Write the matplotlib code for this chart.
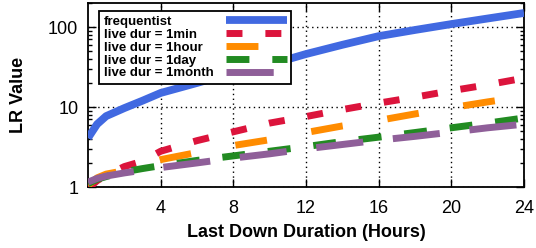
import matplotlib
matplotlib.use("Agg")
import matplotlib.pyplot as plt
from matplotlib.ticker import LogLocator, NullFormatter, FixedLocator

plt.rcParams['font.family'] = ['Liberation Sans', 'DejaVu Sans']

hours = [0, 0.5, 1, 2, 3, 4, 6, 8, 10, 12, 14, 16, 18, 20, 22, 24]
frequentist = [4.1, 6.1, 7.7, 9.7, 12, 15, 20, 27, 34, 46, 60, 77, 92, 109, 128, 150]
live_1min = [0.95, 1.2, 1.4, 1.8, 2.1, 2.8, 3.8, 4.9, 6.3, 7.6, 9.3, 11.2, 13.3, 16, 19, 23]
live_1hour = [1.05, 1.3, 1.45, 1.6, 1.9, 2.2, 2.7, 3.3, 3.9, 4.8, 5.8, 6.8, 8.2, 9.8, 11.6, 13.5]
live_1day = [1.1, 1.25, 1.35, 1.55, 1.7, 1.85, 2.15, 2.45, 2.8, 3.2, 3.7, 4.2, 4.8, 5.5, 6.3, 7.3]
live_1month = [1.15, 1.28, 1.37, 1.5, 1.62, 1.75, 2.0, 2.3, 2.6, 3.0, 3.4, 3.85, 4.3, 4.85, 5.5, 6.1]

labels = ["frequentist", "live dur = 1min", "live dur = 1hour", "live dur = 1day", "live dur = 1month"]
xticks = [4, 8, 12, 16, 20, 24]
yticks = [1, 10, 100]
ytick_labels = ["1", "10", "100"]

fig = plt.figure(figsize=(5.36, 2.48), dpi=100)
ax = fig.add_axes([88/536, 1-187/248, (524-88)/536, (187-3)/248])

lw = 5.0
ax.plot(hours, frequentist, color="#4169e1", lw=5.6, solid_capstyle="butt", label=labels[0], zorder=3)
l1, = ax.plot(hours, live_1min, color="#dc143c", lw=lw, dash_capstyle="butt", label=labels[1], zorder=3)
l1.set_dashes((2.3, 3.3))
l2, = ax.plot(hours, live_1hour, color="#ff8c00", lw=lw, dash_capstyle="butt", label=labels[2], zorder=3)
l2.set_dashes((4.6, 6.5))
l3, = ax.plot(hours, live_1day, color="#228b22", lw=lw, dash_capstyle="butt", label=labels[3], zorder=3)
l3.set_dashes((3.3, 3.3))
l4, = ax.plot(hours, live_1month, color="#8f5f99", lw=lw, dash_capstyle="butt", label=labels[4], zorder=3)
l4.set_dashes((6.8, 4.3))

ax.set_yscale("log")
ax.set_xlim(0, 24)
ax.set_ylim(1, 200)
ax.xaxis.set_major_locator(FixedLocator(xticks))
ax.set_xticklabels([str(t) for t in xticks])
ax.yaxis.set_major_locator(FixedLocator(yticks))
ax.set_yticklabels(ytick_labels)
ax.yaxis.set_minor_locator(LogLocator(base=10, subs=range(2, 10)))
ax.yaxis.set_minor_formatter(NullFormatter())

ax.tick_params(which="both", direction="in", top=True, right=True, labelsize=13, width=1)
ax.tick_params(axis="x", pad=9.5)
ax.tick_params(axis="y", pad=7)
ax.tick_params(which="major", length=6)
ax.tick_params(which="minor", length=3)
ax.grid(True, which="major", color="black", linestyle=(0, (1, 2.5)), linewidth=1)
for s in ax.spines.values():
    s.set_linewidth(1.3)

ax.set_xlabel("Last Down Duration (Hours)", fontsize=13, fontweight="bold")
ax.set_ylabel("LR Value", fontsize=13, fontweight="bold")
ax.xaxis.set_label_coords(0.5, (187-224)/184)
ax.yaxis.set_label_coords((27-88)/436, 0.5)

leg = ax.legend(loc="upper left", bbox_to_anchor=(11/436, 1-8/184), borderaxespad=0,
                markerfirst=False, prop={"weight": "bold", "size": 9.5},
                handlelength=4.6, handletextpad=0.5, labelspacing=0.05,
                borderpad=0.35, fancybox=False, framealpha=1, edgecolor="black")
leg.get_frame().set_linewidth(1.3)
# left-align the texts while keeping the handles right-aligned
for col in leg._legend_handle_box.get_children():
    for item in col.get_children():
        item.width = 183
        item.mode = "expand"

fig.savefig("out.png", dpi=100)
